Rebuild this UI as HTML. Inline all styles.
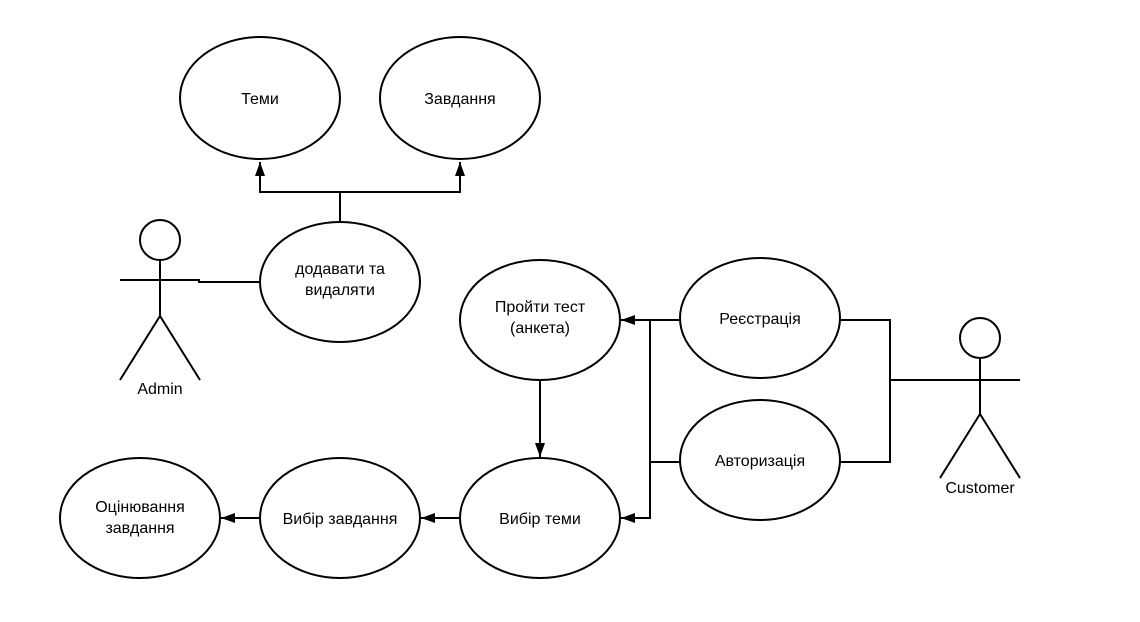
<!DOCTYPE html>
<html><head><meta charset="utf-8"><style>
html,body{margin:0;padding:0;background:#fff;}
svg{display:block;}
text{font-family:"Liberation Sans",sans-serif;font-size:16px;fill:#000;text-anchor:middle;}
</style></head><body>
<svg width="1140" height="622" viewBox="0 0 1140 622" xmlns="http://www.w3.org/2000/svg">
<defs><marker id="a" markerWidth="14" markerHeight="10" refX="14" refY="5" orient="auto" markerUnits="userSpaceOnUse"><path d="M0,0 L14,5 L0,10 z" fill="#000"/></marker></defs>
<g fill="#fff" stroke="#000" stroke-width="2">
<ellipse cx="260" cy="98" rx="80" ry="61"/>
<ellipse cx="460" cy="98" rx="80" ry="61"/>
<ellipse cx="340" cy="282" rx="80" ry="60"/>
<ellipse cx="540" cy="320" rx="80" ry="60"/>
<ellipse cx="760" cy="318" rx="80" ry="60"/>
<ellipse cx="760" cy="460" rx="80" ry="60"/>
<ellipse cx="540" cy="518" rx="80" ry="60"/>
<ellipse cx="340" cy="518" rx="80" ry="60"/>
<ellipse cx="140" cy="518" rx="80" ry="60"/>
</g>
<g fill="none" stroke="#000" stroke-width="2">
<path d="M340,222 V192 H260 V162" marker-end="url(#a)"/>
<path d="M340,192 H460 V162" marker-end="url(#a)"/>
<path d="M198,282 H260"/>
<path d="M840,320 H890 V462 H840"/>
<path d="M890,380 H940"/>
<path d="M680,320 H621" marker-end="url(#a)"/>
<path d="M650,320 V518 H621" marker-end="url(#a)"/>
<path d="M680,462 H650"/>
<path d="M540,380 V457" marker-end="url(#a)"/>
<path d="M460,518 H421" marker-end="url(#a)"/>
<path d="M260,518 H221" marker-end="url(#a)"/>
<circle cx="160" cy="240" r="20" fill="#fff"/>
<path d="M160,260 V316 M120,280 H200 M160,316 L120,380 M160,316 L200,380"/>
<circle cx="980" cy="338" r="20" fill="#fff"/>
<path d="M980,358 V414 M940,380 H1020 M980,414 L940,478 M980,414 L1020,478"/>
</g>
<text x="260" y="104">Теми</text>
<text x="460" y="104">Завдання</text>
<text x="340" y="274">додавати та</text>
<text x="340" y="295">видаляти</text>
<text x="540" y="312">Пройти тест</text>
<text x="540" y="333">(анкета)</text>
<text x="760" y="324">Реєстрація</text>
<text x="760" y="466">Авторизація</text>
<text x="540" y="524">Вибір теми</text>
<text x="340" y="524">Вибір завдання</text>
<text x="140" y="512">Оцінювання</text>
<text x="140" y="533">завдання</text>
<text x="160" y="394">Admin</text>
<text x="980" y="493">Customer</text>
</svg>
</body></html>
